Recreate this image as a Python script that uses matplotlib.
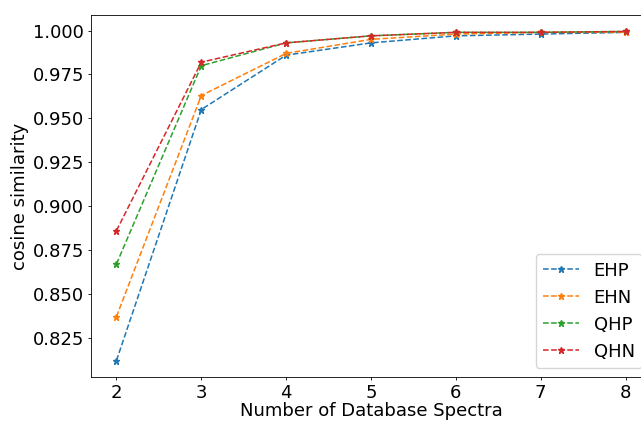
import matplotlib
matplotlib.use("Agg")
import matplotlib.pyplot as plt

# Number of database spectra vs cosine similarity
n_spectra = [2, 3, 4, 5, 6, 7, 8]
ehp = [0.812, 0.955, 0.986, 0.993, 0.997, 0.998, 0.999]
ehn = [0.837, 0.963, 0.987, 0.995, 0.998, 0.999, 0.999]
qhp = [0.867, 0.980, 0.993, 0.997, 0.999, 0.999, 0.9995]
qhn = [0.886, 0.982, 0.993, 0.997, 0.999, 0.999, 0.9995]

series = [("EHP", ehp), ("EHN", ehn), ("QHP", qhp), ("QHN", qhn)]

plt.rcParams["font.size"] = 13
plt.rcParams["axes.linewidth"] = 0.6
plt.rcParams["xtick.major.size"] = 2.3
plt.rcParams["ytick.major.size"] = 2.3
plt.rcParams["xtick.major.width"] = 0.6
plt.rcParams["ytick.major.width"] = 0.6
plt.rcParams["xtick.major.pad"] = 2.5
plt.rcParams["ytick.major.pad"] = 2.5
plt.rcParams["axes.labelpad"] = 2.5

fig = plt.figure(figsize=(6.41, 4.21), dpi=100)
ax = fig.add_axes([91 / 641, 1 - 377 / 421, 560 / 641, 362 / 421])

for name, vals in series:
    ax.plot(n_spectra, vals, linestyle="--", marker="*", markersize=4.5,
            linewidth=1.1, label=name)

ax.set_xlabel("Number of Database Spectra", labelpad=0.5)
ax.set_ylabel("cosine similarity")
ax.legend(loc="lower right")

fig.savefig("out.png", dpi=100)
